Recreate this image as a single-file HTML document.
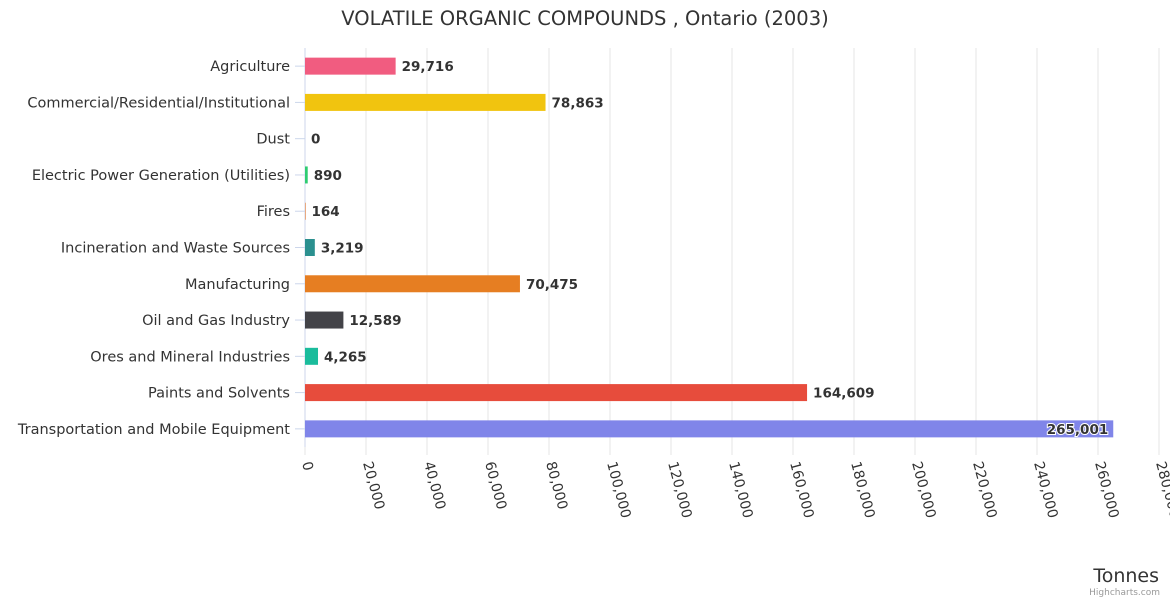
<!DOCTYPE html>
<html><head><meta charset="utf-8"><style>
body{margin:0;background:#fff;font-family:"Liberation Sans","DejaVu Sans",sans-serif}
svg text{font-family:"DejaVu Sans","Liberation Sans",sans-serif}
</style></head><body>
<svg id="chart" width="1170" height="600" xmlns="http://www.w3.org/2000/svg">
<rect width="1170" height="600" fill="#fff"/>
<text x="585" y="25" text-anchor="middle" font-size="19.5" fill="#333">VOLATILE ORGANIC COMPOUNDS , Ontario (2003)</text>
<g id="grid"></g><g id="bars"></g><g id="labels"></g><g id="xticks"></g>
<text x="1159" y="582" text-anchor="end" font-size="19" fill="#333">Tonnes</text>
<text x="1160" y="595" text-anchor="end" font-size="9" fill="#999">Highcharts.com</text>
</svg>
<script>
const categories=["Agriculture","Commercial/Residential/Institutional","Dust","Electric Power Generation (Utilities)","Fires","Incineration and Waste Sources","Manufacturing","Oil and Gas Industry","Ores and Mineral Industries","Paints and Solvents","Transportation and Mobile Equipment"];
const values=[29716,78863,0,890,164,3219,70475,12589,4265,164609,265001];
const colors=["#f15c80","#f1c40f","#7cb5ec","#2ecc71","#d35400","#2b908f","#e67e22","#434348","#1abc9c","#e74c3c","#8085e9"];
const ticks=[0,20000,40000,60000,80000,100000,120000,140000,160000,180000,200000,220000,240000,260000,280000];
const NS="http://www.w3.org/2000/svg";
const X0=305,X1=1159,XMAX=280000,PTOP=48,PBOT=447;
const xs=v=>X0+v/XMAX*(X1-X0);
const band=(PBOT-PTOP)/categories.length;
const yc=i=>PTOP+band*(i+0.5);
function mk(t,a,p){const e=document.createElementNS(NS,t);for(const k in a)e.setAttribute(k,a[k]);p.appendChild(e);return e;}
const g=document.getElementById('grid'),b=document.getElementById('bars'),l=document.getElementById('labels'),xt=document.getElementById('xticks');
ticks.forEach(t=>{
 const ln=mk('line',{x1:xs(t),x2:xs(t),y1:PTOP,y2:PBOT+8,stroke:'#e6e6e6','stroke-width':1},g);
 
 
 const x=xs(t);
 const tx=mk('text',{x:x-3,y:463,'font-size':14,fill:'#333',transform:`rotate(75 ${x-3} 463)`},xt);
 
 
 tx.textContent=t.toLocaleString('en-US');
});
const ax=mk('line',{x1:X0,x2:X0,y1:PTOP,y2:PBOT,stroke:'#ccd6eb','stroke-width':1},g);


categories.forEach((c,i)=>{
 const y=yc(i);
 const tk=mk('line',{x1:X0-10,x2:X0,y1:y,y2:y,stroke:'#ccd6eb'},g);
 
 
 const lab=mk('text',{x:290,y:y+5,'text-anchor':'end','font-size':14.5,fill:'#333'},l);
 
 
 lab.textContent=c;
 const w=Math.max(xs(values[i])-X0,0);
 const r=mk('rect',{x:X0,y:y-8.5,width:w,height:17,fill:colors[i]},b);
 
 
 const inside=xs(values[i])+90>X1;
 const vt=mk('text',{x:inside?xs(values[i])-5:xs(values[i])+6,y:y+5,'text-anchor':inside?'end':'start','font-size':13.5,'font-weight':'bold',fill:'#333',stroke:'#fff','stroke-width':inside?2:0,'paint-order':'stroke'},l);
 
 
 vt.textContent=values[i].toLocaleString('en-US');
});
</script>
</body></html>
